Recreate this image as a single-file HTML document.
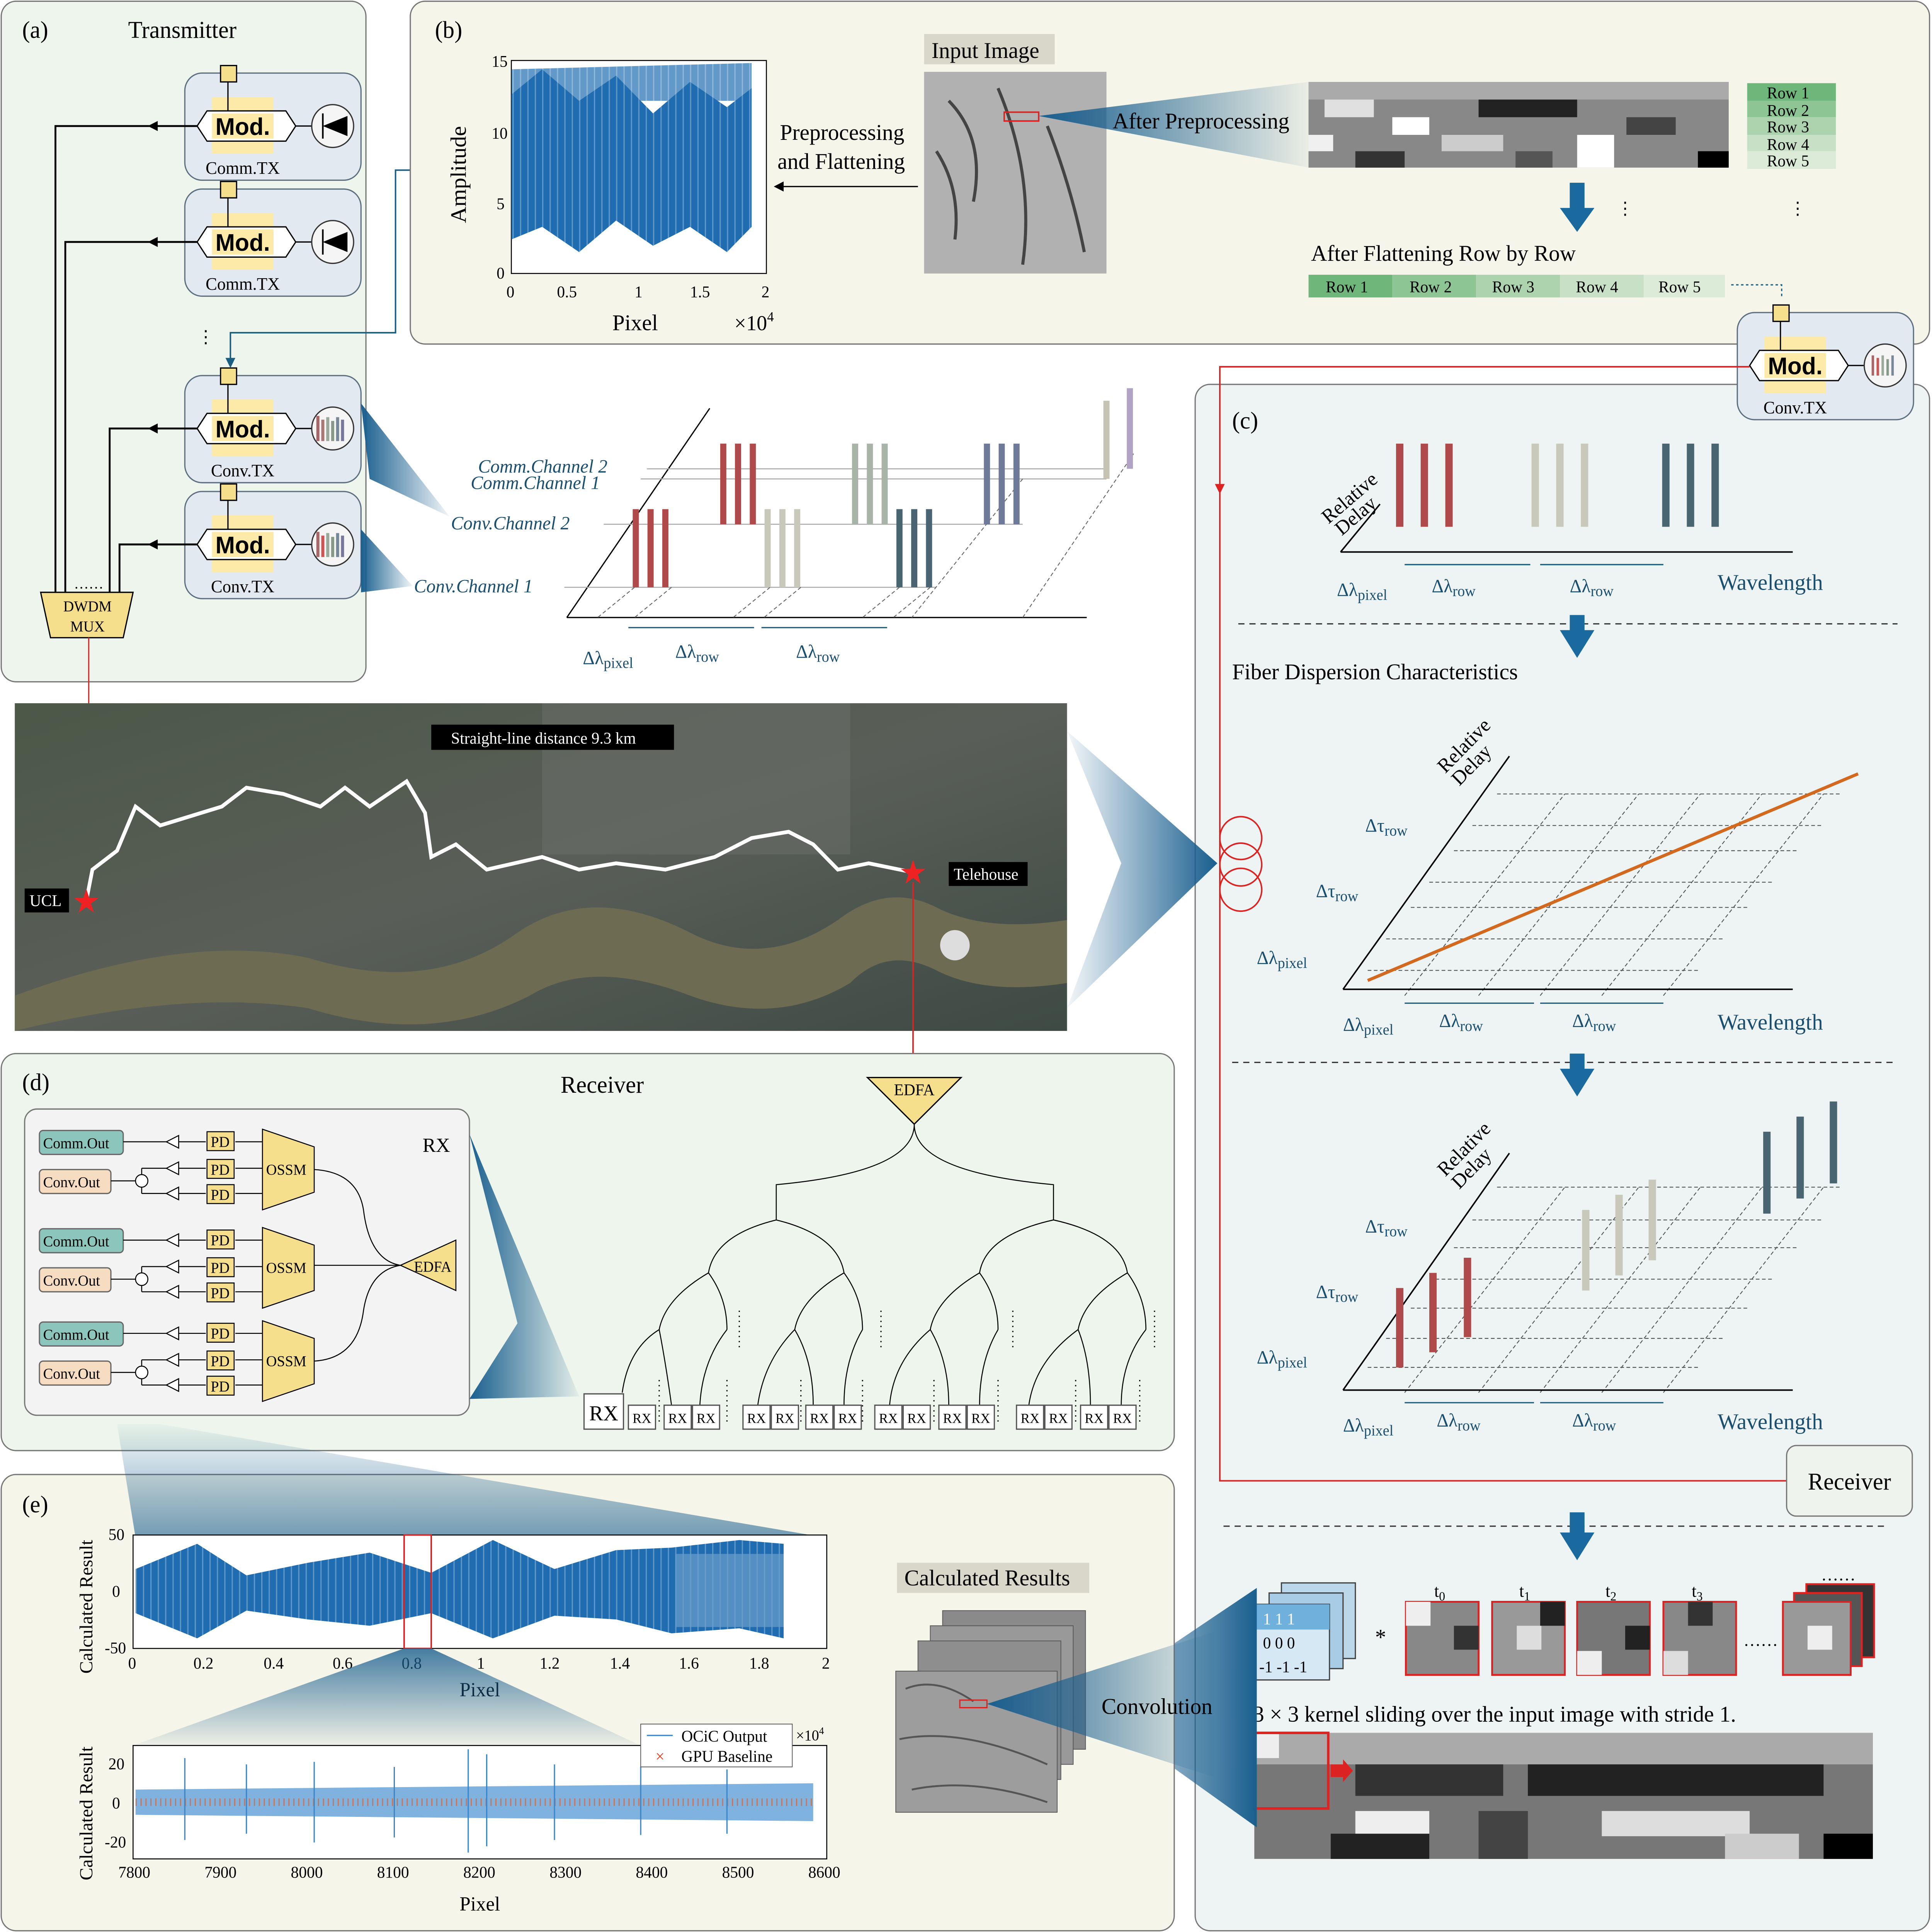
<!DOCTYPE html>
<html><head><meta charset="utf-8"><style>
html,body{margin:0;padding:0;background:#fff;width:100%;height:100%;overflow:hidden;}
svg{display:block;position:absolute;left:0;top:0;width:100vw;height:100vh;}
text{font-family:"Liberation Serif",serif;}
.s{font-family:"Liberation Sans",sans-serif;}
</style></head><body>
<svg xmlns="http://www.w3.org/2000/svg" viewBox="0 0 1568 1533" preserveAspectRatio="none">
<defs>
<linearGradient id="fanB" x1="0" y1="0" x2="1" y2="0"><stop offset="0" stop-color="#1a5f8f"/><stop offset="1" stop-color="#1a5f8f" stop-opacity="0.05"/></linearGradient>
<linearGradient id="fanR" x1="1" y1="0" x2="0" y2="0"><stop offset="0" stop-color="#1a5f8f"/><stop offset="1" stop-color="#1a5f8f" stop-opacity="0.05"/></linearGradient>
<linearGradient id="fanD" x1="0" y1="1" x2="0" y2="0"><stop offset="0" stop-color="#1a5f8f"/><stop offset="1" stop-color="#1a5f8f" stop-opacity="0.05"/></linearGradient>
<linearGradient id="fanU" x1="0" y1="0" x2="0" y2="1"><stop offset="0" stop-color="#1a5f8f"/><stop offset="1" stop-color="#1a5f8f" stop-opacity="0.05"/></linearGradient>
<linearGradient id="map" x1="0" y1="0" x2="1" y2="1"><stop offset="0" stop-color="#4c5848"/><stop offset="0.5" stop-color="#5a5e58"/><stop offset="1" stop-color="#3e4a44"/></linearGradient>
<pattern id="noise" width="6" height="10" patternUnits="userSpaceOnUse"><rect width="6" height="10" fill="#1f6db0"/><rect x="2" width="1" height="10" fill="#5f98c8"/></pattern>
<g id="mod">
<rect x="0" y="0" width="143" height="85" rx="14" fill="#e2e9f1" stroke="#5d6f80" stroke-width="1"/>
<rect x="22" y="19" width="50" height="45" fill="#fdeaa8"/>
<line x1="35" y1="6" x2="35" y2="30" stroke="#000"/>
<rect x="29" y="-6" width="13" height="13" fill="#f6df8c" stroke="#000"/>
<polygon points="10,42 18,30 82,30 90,42 82,54 18,54" fill="#fff" stroke="#000"/>
<rect x="22" y="32" width="50" height="20" fill="#fdeaa8"/>
<text x="47" y="49" text-anchor="middle" class="s" font-weight="bold" font-size="19">Mod.</text>
<line x1="90" y1="42" x2="103" y2="42" stroke="#000"/>
<circle cx="120" cy="42" r="17" fill="#f5f5f5" stroke="#333"/>
</g>
</defs>

<!-- Panel a -->
<rect x="1" y="1" width="296" height="540" rx="12" fill="#edf5ec" stroke="#777"/>
<text x="18" y="30" font-size="19">(a)</text>
<text x="104" y="30" font-size="19">Transmitter</text>
<use href="#mod" x="150" y="58"/><text x="197" y="138" font-size="14" text-anchor="middle">Comm.TX</text>
<use href="#mod" x="150" y="150"/><text x="197" y="230" font-size="14" text-anchor="middle">Comm.TX</text>
<use href="#mod" x="150" y="298"/><text x="197" y="378" font-size="14" text-anchor="middle">Conv.TX</text>
<use href="#mod" x="150" y="390"/><text x="197" y="470" font-size="14" text-anchor="middle">Conv.TX</text>
<g fill="#000"><polygon points="262,100 282,92 282,108"/><polygon points="262,192 282,184 282,200"/></g>
<g stroke="#000" stroke-width="1.3"><line x1="262" y1="90" x2="262" y2="110"/><line x1="262" y1="182" x2="262" y2="202"/></g>
<g stroke-width="2.5"><line x1="258" y1="330" x2="258" y2="350" stroke="#a66"/><line x1="262" y1="333" x2="262" y2="350" stroke="#a77"/><line x1="266" y1="331" x2="266" y2="350" stroke="#9a9"/><line x1="270" y1="334" x2="270" y2="350" stroke="#898"/><line x1="274" y1="331" x2="274" y2="350" stroke="#789"/><line x1="278" y1="333" x2="278" y2="350" stroke="#779"/>
<line x1="258" y1="422" x2="258" y2="442" stroke="#a66"/><line x1="262" y1="425" x2="262" y2="442" stroke="#c55"/><line x1="266" y1="423" x2="266" y2="442" stroke="#9a9"/><line x1="270" y1="426" x2="270" y2="442" stroke="#898"/><line x1="274" y1="423" x2="274" y2="442" stroke="#789"/><line x1="278" y1="425" x2="278" y2="442" stroke="#779"/></g>
<g fill="none" stroke="#000" stroke-width="1.5">
<polyline points="160,100 45,100 45,470"/><polyline points="160,192 53,192 53,470"/>
<polyline points="160,340 89,340 89,470"/><polyline points="160,432 97,432 97,470"/></g>
<g fill="#000"><polygon points="120,100 128,96 128,104"/><polygon points="120,192 128,188 128,196"/><polygon points="120,340 128,336 128,344"/><polygon points="120,432 128,428 128,436"/></g>
<text x="160" y="272" font-size="14">⋮</text>
<text x="60" y="467" font-size="12">……</text>
<polygon points="33,470 108,470 100,506 41,506" fill="#f6df8c" stroke="#000"/>
<text x="71" y="485" font-size="12" text-anchor="middle">DWDM</text><text x="71" y="501" font-size="12" text-anchor="middle">MUX</text>
<polyline points="333,135 321,135 321,264 187,264 187,290" fill="none" stroke="#1a5f80" stroke-width="1.2"/>
<polygon points="187,292 183,284 191,284" fill="#1a5f80"/>
<line x1="72" y1="506" x2="72" y2="715" stroke="#c33" stroke-width="1"/>

<polygon points="293,320 365,410 300,380" fill="url(#fanB)"/>
<polygon points="293,420 335,465 293,470" fill="url(#fanB)"/>

<!-- 3D channels diagram -->
<g stroke="#000" fill="none" stroke-width="1"><line x1="460" y1="490" x2="576" y2="324"/><line x1="460" y1="490" x2="882" y2="490"/></g>
<g stroke="#aaa" stroke-width="0.8"><line x1="525" y1="372" x2="898" y2="372"/><line x1="520" y1="380" x2="898" y2="380"/><line x1="490" y1="416" x2="830" y2="416"/><line x1="458" y1="466" x2="760" y2="466"/></g>
<g stroke="#666" stroke-width="0.7" stroke-dasharray="3,2">
<line x1="515" y1="466" x2="485" y2="490"/><line x1="545" y1="466" x2="515" y2="490"/><line x1="625" y1="466" x2="595" y2="490"/><line x1="650" y1="466" x2="620" y2="490"/><line x1="730" y1="466" x2="700" y2="490"/><line x1="755" y1="466" x2="725" y2="490"/><line x1="830" y1="380" x2="740" y2="490"/><line x1="920" y1="360" x2="830" y2="490"/></g>
<g stroke-width="5">
<line x1="516" y1="404" x2="516" y2="466" stroke="#b04a4a"/><line x1="528" y1="404" x2="528" y2="466" stroke="#b04a4a"/><line x1="540" y1="404" x2="540" y2="466" stroke="#b04a4a"/>
<line x1="587" y1="352" x2="587" y2="416" stroke="#b04a4a"/><line x1="599" y1="352" x2="599" y2="416" stroke="#b04a4a"/><line x1="611" y1="352" x2="611" y2="416" stroke="#b04a4a"/>
<line x1="623" y1="404" x2="623" y2="466" stroke="#c8c8bb"/><line x1="635" y1="404" x2="635" y2="466" stroke="#c8c8bb"/><line x1="647" y1="404" x2="647" y2="466" stroke="#c8c8bb"/>
<line x1="694" y1="352" x2="694" y2="416" stroke="#a9b4a8"/><line x1="706" y1="352" x2="706" y2="416" stroke="#a9b4a8"/><line x1="718" y1="352" x2="718" y2="416" stroke="#a9b4a8"/>
<line x1="730" y1="404" x2="730" y2="466" stroke="#4a6572"/><line x1="742" y1="404" x2="742" y2="466" stroke="#4a6572"/><line x1="754" y1="404" x2="754" y2="466" stroke="#4a6572"/>
<line x1="801" y1="352" x2="801" y2="416" stroke="#6d7a99"/><line x1="813" y1="352" x2="813" y2="416" stroke="#6d7a99"/><line x1="825" y1="352" x2="825" y2="416" stroke="#6d7a99"/>
<line x1="898" y1="318" x2="898" y2="380" stroke="#c6c3b5"/><line x1="917" y1="308" x2="917" y2="372" stroke="#b1a3c3"/></g>
<g fill="#1a4f70" font-style="italic" font-size="15"><text x="388" y="375">Comm.Channel 2</text><text x="382" y="388">Comm.Channel 1</text><text x="366" y="420">Conv.Channel 2</text><text x="336" y="470">Conv.Channel 1</text></g>
<g stroke="#1a5f80" stroke-width="1"><line x1="510" y1="498" x2="612" y2="498"/><line x1="618" y1="498" x2="720" y2="498"/></g>
<g fill="#1a4f70" font-size="15"><text x="473" y="527">Δλ<tspan font-size="12" dy="3">pixel</tspan></text><text x="548" y="522">Δλ<tspan font-size="12" dy="3">row</tspan></text><text x="646" y="522">Δλ<tspan font-size="12" dy="3">row</tspan></text></g>

<!-- Panel b -->
<rect x="333" y="1" width="1233" height="272" rx="12" fill="#f6f5e9" stroke="#777"/>
<text x="353" y="30" font-size="19">(b)</text>
<rect x="415" y="48" width="207" height="169" fill="#fff" stroke="#000" stroke-width="0.8"/>
<polygon points="415,75 440,55 470,80 500,60 530,90 560,65 590,85 610,70 610,180 590,200 560,180 530,195 500,175 470,200 440,180 415,190" fill="url(#noise)"/>
<polygon points="415,55 610,50 610,80 415,80" fill="url(#noise)" opacity="0.7"/>
<g font-size="13"><text x="399" y="53">15</text><text x="399" y="110">10</text><text x="403" y="166">5</text><text x="403" y="221">0</text>
<text x="411" y="236">0</text><text x="452" y="236">0.5</text><text x="515" y="236">1</text><text x="560" y="236">1.5</text><text x="618" y="236">2</text></g>
<text x="378" y="177" font-size="18" transform="rotate(-90 378 177)">Amplitude</text>
<text x="497" y="262" font-size="18">Pixel</text><text x="596" y="262" font-size="17">×10<tspan font-size="11" dy="-7">4</tspan></text>
<text x="633" y="111" font-size="18">Preprocessing</text><text x="631" y="134" font-size="18">and Flattening</text>
<line x1="745" y1="148" x2="635" y2="148" stroke="#000"/><polygon points="628,148 636,144 636,152" fill="#000"/>
<rect x="750" y="27" width="106" height="24" fill="#d9d6ca"/><text x="756" y="46" font-size="18">Input Image</text>
<rect x="750" y="57" width="148" height="160" fill="#9a9a9a"/>
<rect x="750" y="57" width="148" height="160" fill="#c8c8c8" opacity="0.5"/>
<path d="M770,80 Q800,110 790,160 M810,70 Q840,140 830,210 M850,100 Q870,150 880,200 M760,120 Q780,150 775,190" stroke="#444" stroke-width="2.5" fill="none"/>
<rect x="815" y="89" width="28" height="7" fill="none" stroke="#d22" stroke-width="1.2"/>
<polygon points="843,92 1062,65 1062,133" fill="url(#fanB)"/>
<text x="903" y="102" font-size="18">After Preprocessing</text>
<g>
<rect x="1062" y="65" width="341" height="68" fill="#888"/>
<rect x="1062" y="65" width="341" height="14" fill="#aaa"/>
<rect x="1075" y="79" width="40" height="14" fill="#e0e0e0"/><rect x="1130" y="93" width="30" height="14" fill="#fff"/><rect x="1200" y="79" width="80" height="14" fill="#222"/><rect x="1280" y="107" width="30" height="26" fill="#fff"/><rect x="1378" y="120" width="25" height="13" fill="#000"/><rect x="1100" y="120" width="40" height="13" fill="#333"/><rect x="1170" y="107" width="50" height="13" fill="#ccc"/><rect x="1320" y="93" width="40" height="14" fill="#444"/><rect x="1230" y="120" width="30" height="13" fill="#555"/><rect x="1062" y="107" width="20" height="13" fill="#f0f0f0"/>
</g>
<g font-size="13"><rect x="1418" y="66" width="72" height="14" fill="#6fb67a"/><rect x="1418" y="80" width="72" height="13" fill="#8ec595"/><rect x="1418" y="93" width="72" height="14" fill="#acd3ae"/><rect x="1418" y="107" width="72" height="13" fill="#c8e0c6"/><rect x="1418" y="120" width="72" height="14" fill="#dcebd8"/>
<text x="1434" y="78" font-family="Liberation Sans">Row 1</text><text x="1434" y="92" font-family="Liberation Sans">Row 2</text><text x="1434" y="105" font-family="Liberation Sans">Row 3</text><text x="1434" y="119" font-family="Liberation Sans">Row 4</text><text x="1434" y="132" font-family="Liberation Sans">Row 5</text></g>
<rect x="1274" y="145" width="12" height="22" fill="#1a6aa0"/><polygon points="1266,165 1294,165 1280,184" fill="#1a6aa0"/>
<text x="1312" y="170" font-size="14">⋮</text><text x="1452" y="170" font-size="14">⋮</text>
<text x="1064" y="207" font-size="18">After Flattening Row by Row</text>
<g font-size="13"><rect x="1062" y="218" width="68" height="18" fill="#6fb67a"/><rect x="1130" y="218" width="68" height="18" fill="#8ec595"/><rect x="1198" y="218" width="68" height="18" fill="#acd3ae"/><rect x="1266" y="218" width="68" height="18" fill="#c8e0c6"/><rect x="1334" y="218" width="66" height="18" fill="#dcebd8"/>
<text x="1076" y="232" font-family="Liberation Sans">Row 1</text><text x="1144" y="232" font-family="Liberation Sans">Row 2</text><text x="1211" y="232" font-family="Liberation Sans">Row 3</text><text x="1279" y="232" font-family="Liberation Sans">Row 4</text><text x="1346" y="232" font-family="Liberation Sans">Row 5</text></g>
<polyline points="1405,226 1446,226 1446,236" fill="none" stroke="#1a5f80" stroke-dasharray="2,2"/>

<!-- Panel c -->
<rect x="970" y="305" width="596" height="1227" rx="12" fill="#eef4f3" stroke="#777"/>
<use href="#mod" x="1410" y="248"/>
<g stroke-width="2"><line x1="1520" y1="282" x2="1520" y2="298" stroke="#a66"/><line x1="1524" y1="284" x2="1524" y2="298" stroke="#c55"/><line x1="1528" y1="282" x2="1528" y2="298" stroke="#9a9"/><line x1="1532" y1="285" x2="1532" y2="298" stroke="#898"/><line x1="1536" y1="282" x2="1536" y2="298" stroke="#789"/></g>
<text x="1457" y="328" font-size="14" text-anchor="middle">Conv.TX</text>
<polyline points="1420,291 990,291 990,1175 1450,1175" fill="none" stroke="#d22" stroke-width="1.2"/>
<polygon points="990,392 986,384 994,384" fill="#d22"/>
<rect x="1450" y="1147" width="102" height="56" rx="8" fill="#eef4ed" stroke="#777"/>
<text x="1501" y="1182" font-size="19" text-anchor="middle">Receiver</text>
<text x="1000" y="340" font-size="19">(c)</text>
<g stroke="#000" stroke-width="1.2" fill="none"><line x1="1088" y1="438" x2="1455" y2="438"/><line x1="1088" y1="438" x2="1120" y2="400"/></g>
<text x="1065" y="410" font-size="16" transform="rotate(-40 1080 395)">Relative</text><text x="1076" y="420" font-size="16" transform="rotate(-40 1090 405)">Delay</text>
<g stroke-width="6"><line x1="1136" y1="352" x2="1136" y2="418" stroke="#b04a4a"/><line x1="1156" y1="352" x2="1156" y2="418" stroke="#b04a4a"/><line x1="1176" y1="352" x2="1176" y2="418" stroke="#b04a4a"/><line x1="1246" y1="352" x2="1246" y2="418" stroke="#c8c8bb"/><line x1="1266" y1="352" x2="1266" y2="418" stroke="#c8c8bb"/><line x1="1286" y1="352" x2="1286" y2="418" stroke="#c8c8bb"/><line x1="1352" y1="352" x2="1352" y2="418" stroke="#4a6572"/><line x1="1372" y1="352" x2="1372" y2="418" stroke="#4a6572"/><line x1="1392" y1="352" x2="1392" y2="418" stroke="#4a6572"/></g>
<g stroke="#1a5f80"><line x1="1140" y1="448" x2="1242" y2="448"/><line x1="1250" y1="448" x2="1350" y2="448"/></g>
<g fill="#1a4f70" font-size="15"><text x="1085" y="473">Δλ<tspan font-size="12" dy="3">pixel</tspan></text><text x="1162" y="470">Δλ<tspan font-size="12" dy="3">row</tspan></text><text x="1274" y="470">Δλ<tspan font-size="12" dy="3">row</tspan></text></g>
<text x="1394" y="468" font-size="18" fill="#1a4f70">Wavelength</text>
<line x1="1005" y1="495" x2="1540" y2="495" stroke="#333" stroke-dasharray="5,4"/>
<rect x="1274" y="488" width="12" height="14" fill="#1a6aa0"/><polygon points="1266,500 1294,500 1280,522" fill="#1a6aa0"/>
<text x="1000" y="539" font-size="18">Fiber Dispersion Characteristics</text>
<g stroke="#555" stroke-width="0.7" stroke-dasharray="3,2" fill="none">
<line x1="1110" y1="770" x2="1380" y2="770"/><line x1="1125" y1="745" x2="1400" y2="745"/><line x1="1145" y1="720" x2="1420" y2="720"/><line x1="1160" y1="700" x2="1440" y2="700"/><line x1="1180" y1="675" x2="1460" y2="675"/><line x1="1195" y1="655" x2="1480" y2="655"/><line x1="1215" y1="630" x2="1495" y2="630"/>
<line x1="1140" y1="790" x2="1270" y2="630"/><line x1="1200" y1="790" x2="1330" y2="630"/><line x1="1250" y1="790" x2="1380" y2="630"/><line x1="1300" y1="790" x2="1430" y2="630"/><line x1="1350" y1="790" x2="1480" y2="630"/></g>
<g stroke="#000" stroke-width="1.2"><line x1="1090" y1="785" x2="1455" y2="785"/><line x1="1090" y1="785" x2="1225" y2="600"/></g>
<line x1="1110" y1="778" x2="1508" y2="614" stroke="#d2691e" stroke-width="2.5"/>
<text x="1165" y="605" font-size="16" transform="rotate(-45 1180 600)">Relative</text><text x="1176" y="616" font-size="16" transform="rotate(-45 1190 610)">Delay</text>
<g fill="#1a4f70" font-size="15"><text x="1108" y="660">Δτ<tspan font-size="12" dy="3">row</tspan></text><text x="1068" y="712">Δτ<tspan font-size="12" dy="3">row</tspan></text><text x="1020" y="765">Δλ<tspan font-size="12" dy="3">pixel</tspan></text><text x="1090" y="818">Δλ<tspan font-size="12" dy="3">pixel</tspan></text><text x="1168" y="815">Δλ<tspan font-size="12" dy="3">row</tspan></text><text x="1276" y="815">Δλ<tspan font-size="12" dy="3">row</tspan></text></g>
<text x="1394" y="817" font-size="18" fill="#1a4f70">Wavelength</text>
<g stroke="#1a5f80"><line x1="1140" y1="796" x2="1245" y2="796"/><line x1="1250" y1="796" x2="1350" y2="796"/></g>
<g fill="none" stroke="#d22" stroke-width="1.2"><circle cx="1007" cy="665" r="17"/><circle cx="1007" cy="686" r="17"/><circle cx="1007" cy="706" r="17"/></g>
<polygon points="866,580 988,685 866,800 910,685" fill="url(#fanR)"/>
<line x1="1000" y1="843" x2="1540" y2="843" stroke="#333" stroke-dasharray="5,4"/>
<rect x="1274" y="836" width="12" height="14" fill="#1a6aa0"/><polygon points="1266,848 1294,848 1280,870" fill="#1a6aa0"/>
<g stroke="#555" stroke-width="0.7" stroke-dasharray="3,2" fill="none">
<line x1="1110" y1="1085" x2="1380" y2="1085"/><line x1="1125" y1="1062" x2="1400" y2="1062"/><line x1="1145" y1="1038" x2="1420" y2="1038"/><line x1="1160" y1="1015" x2="1440" y2="1015"/><line x1="1180" y1="990" x2="1460" y2="990"/><line x1="1195" y1="968" x2="1480" y2="968"/><line x1="1215" y1="942" x2="1495" y2="942"/>
<line x1="1140" y1="1105" x2="1270" y2="942"/><line x1="1200" y1="1105" x2="1330" y2="942"/><line x1="1250" y1="1105" x2="1380" y2="942"/><line x1="1300" y1="1105" x2="1430" y2="942"/><line x1="1350" y1="1105" x2="1480" y2="942"/></g>
<g stroke="#000" stroke-width="1.2"><line x1="1090" y1="1103" x2="1455" y2="1103"/><line x1="1090" y1="1103" x2="1225" y2="915"/></g>
<g stroke-width="6"><line x1="1136" y1="1022" x2="1136" y2="1085" stroke="#b04a4a"/><line x1="1163" y1="1010" x2="1163" y2="1073" stroke="#b04a4a"/><line x1="1191" y1="998" x2="1191" y2="1061" stroke="#b04a4a"/><line x1="1287" y1="960" x2="1287" y2="1024" stroke="#c8c8bb"/><line x1="1314" y1="948" x2="1314" y2="1012" stroke="#c8c8bb"/><line x1="1341" y1="936" x2="1341" y2="1000" stroke="#c8c8bb"/><line x1="1434" y1="898" x2="1434" y2="963" stroke="#4a6572"/><line x1="1461" y1="886" x2="1461" y2="951" stroke="#4a6572"/><line x1="1488" y1="874" x2="1488" y2="939" stroke="#4a6572"/></g>
<text x="1165" y="925" font-size="16" transform="rotate(-45 1180 920)">Relative</text><text x="1176" y="936" font-size="16" transform="rotate(-45 1190 930)">Delay</text>
<g fill="#1a4f70" font-size="15"><text x="1108" y="978">Δτ<tspan font-size="12" dy="3">row</tspan></text><text x="1068" y="1030">Δτ<tspan font-size="12" dy="3">row</tspan></text><text x="1020" y="1082">Δλ<tspan font-size="12" dy="3">pixel</tspan></text><text x="1090" y="1136">Δλ<tspan font-size="12" dy="3">pixel</tspan></text><text x="1166" y="1132">Δλ<tspan font-size="12" dy="3">row</tspan></text><text x="1276" y="1132">Δλ<tspan font-size="12" dy="3">row</tspan></text></g>
<text x="1394" y="1134" font-size="18" fill="#1a4f70">Wavelength</text>
<g stroke="#1a5f80"><line x1="1140" y1="1113" x2="1245" y2="1113"/><line x1="1250" y1="1113" x2="1350" y2="1113"/></g>
<line x1="993" y1="1211" x2="1530" y2="1211" stroke="#333" stroke-dasharray="5,4"/>
<rect x="1274" y="1200" width="12" height="18" fill="#1a6aa0"/><polygon points="1266,1216 1294,1216 1280,1238" fill="#1a6aa0"/>
<g font-size="13">
<rect x="1040" y="1256" width="60" height="60" fill="#bcd7ea" stroke="#444"/><rect x="1030" y="1264" width="60" height="60" fill="#a9cce6" stroke="#444"/>
<rect x="1019" y="1273" width="60" height="60" fill="#d6e8f4" stroke="#444"/><rect x="1019" y="1273" width="60" height="20" fill="#6fb0dc"/>
<text x="1025" y="1289" fill="#fff">1  1  1</text><text x="1025" y="1308">0  0  0</text><text x="1022" y="1327">-1 -1 -1</text></g>
<text x="1116" y="1305" font-size="18">*</text>
<g stroke="#d22" stroke-width="1.5">
<rect x="1141" y="1271" width="59" height="58" fill="#888"/><rect x="1211" y="1271" width="59" height="58" fill="#999"/><rect x="1280" y="1271" width="59" height="58" fill="#777"/><rect x="1350" y="1271" width="59" height="58" fill="#888"/>
<rect x="1466" y="1257" width="55" height="58" fill="#333"/><rect x="1456" y="1264" width="55" height="58" fill="#555"/><rect x="1447" y="1271" width="55" height="58" fill="#999"/></g>
<g stroke="none"><rect x="1141" y="1271" width="20" height="19" fill="#eee"/><rect x="1180" y="1290" width="20" height="19" fill="#333"/><rect x="1231" y="1290" width="20" height="19" fill="#ddd"/><rect x="1250" y="1271" width="20" height="19" fill="#222"/><rect x="1280" y="1310" width="20" height="19" fill="#eee"/><rect x="1319" y="1290" width="20" height="19" fill="#222"/><rect x="1370" y="1271" width="20" height="19" fill="#333"/><rect x="1350" y="1310" width="20" height="19" fill="#ddd"/><rect x="1467" y="1290" width="20" height="19" fill="#eee"/></g>
<g font-size="14"><text x="1164" y="1267">t<tspan font-size="10" dy="3">0</tspan></text><text x="1233" y="1267">t<tspan font-size="10" dy="3">1</tspan></text><text x="1303" y="1267">t<tspan font-size="10" dy="3">2</tspan></text><text x="1373" y="1267">t<tspan font-size="10" dy="3">3</tspan></text><text x="1415" y="1306">……</text><text x="1478" y="1254">……</text></g>
<text x="1017" y="1366" font-size="18">3 × 3 kernel sliding over the input image with stride 1.</text>
<rect x="1018" y="1375" width="502" height="100" fill="#777"/>
<rect x="1018" y="1375" width="502" height="25" fill="#aaa"/><rect x="1100" y="1400" width="120" height="25" fill="#333"/><rect x="1240" y="1400" width="240" height="25" fill="#222"/><rect x="1100" y="1437" width="60" height="20" fill="#eee"/><rect x="1300" y="1437" width="120" height="20" fill="#ddd"/><rect x="1080" y="1455" width="80" height="20" fill="#222"/><rect x="1480" y="1455" width="40" height="20" fill="#000"/><rect x="1400" y="1455" width="60" height="20" fill="#ccc"/><rect x="1200" y="1437" width="40" height="38" fill="#444"/><rect x="1018" y="1375" width="20" height="20" fill="#eee"/>
<rect x="1018" y="1375" width="60" height="60" fill="none" stroke="#d22" stroke-width="2"/>
<polygon points="1080,1400 1090,1400 1090,1396 1098,1405 1090,1414 1090,1410 1080,1410" fill="#d22"/>
<polygon points="880,1352 1020,1260 1020,1450" fill="url(#fanR)"/>

<!-- Map -->
<rect x="12" y="558" width="854" height="260" fill="url(#map)"/>
<rect x="440" y="558" width="250" height="120" fill="#6c6f6c" opacity="0.5"/>
<path d="M12,790 Q150,740 250,760 Q350,790 420,740 Q480,700 560,740 Q620,770 680,730 Q720,700 760,720 Q800,740 866,730 L866,780 Q800,790 760,770 Q720,750 690,780 Q630,815 560,790 Q480,760 430,790 Q350,830 250,800 Q150,785 12,818 Z" fill="#6d6b52"/>
<circle cx="775" cy="750" r="12" fill="#ddd"/>
<polyline points="70,715 75,690 95,675 110,640 130,655 180,640 200,625 230,630 260,640 280,625 300,640 330,620 345,645 350,680 370,670 395,690 440,680 470,690 500,685 540,690 580,680 610,665 640,660 660,670 680,690 705,685 740,692" fill="none" stroke="#fff" stroke-width="3"/>
<rect x="350" y="575" width="197" height="20" fill="#000"/><text x="366" y="590" font-size="13" fill="#fff">Straight-line distance 9.3 km</text>
<rect x="20" y="705" width="36" height="19" fill="#000"/><text x="24" y="719" font-size="13" fill="#fff">UCL</text>
<rect x="770" y="684" width="64" height="19" fill="#000"/><text x="774" y="698" font-size="13" fill="#fff">Telehouse</text>
<text x="70" y="724" font-size="26" fill="#e22" text-anchor="middle">★</text><text x="741" y="701" font-size="26" fill="#e22" text-anchor="middle">★</text>
<line x1="741" y1="700" x2="741" y2="855" stroke="#d22" stroke-width="1.2"/>

<!-- Panel d -->
<rect x="1" y="836" width="952" height="315" rx="12" fill="#edf5ec" stroke="#777"/>
<text x="18" y="865" font-size="19">(d)</text><text x="455" y="867" font-size="19">Receiver</text>
<rect x="20" y="880" width="361" height="243" rx="10" fill="#f3f3f3" stroke="#777"/>
<text x="343" y="914" font-size="16">RX</text>
<polygon points="704,855 780,855 742,892" fill="#f6df8c" stroke="#000"/><text x="742" y="869" font-size="13" text-anchor="middle">EDFA</text>
<g fill="none" stroke="#000" stroke-width="0.8">
<path d="M742,892 Q742,930 630,940 Q630,960 630,968 M742,892 Q742,930 855,940 Q855,960 855,968"/>
<path d="M630,968 Q580,980 575,1010 M630,968 Q680,980 685,1010 M855,968 Q800,980 795,1010 M855,968 Q910,980 915,1010"/>
<path d="M575,1010 Q540,1030 535,1055 M575,1010 Q590,1030 590,1055 M685,1010 Q650,1030 645,1055 M685,1010 Q700,1030 700,1055 M795,1010 Q760,1030 755,1055 M795,1010 Q810,1030 810,1055 M915,1010 Q880,1030 875,1055 M915,1010 Q930,1030 930,1055"/>
<path d="M535,1055 Q510,1070 505,1105 M535,1055 Q540,1080 545,1115 M590,1055 Q570,1080 568,1115 M645,1055 Q620,1080 615,1115 M645,1055 Q660,1080 660,1115 M700,1055 Q685,1080 685,1115 M755,1055 Q725,1080 722,1115 M755,1055 Q770,1080 770,1115 M810,1055 Q795,1080 795,1115 M875,1055 Q840,1080 835,1115 M875,1055 Q885,1080 885,1115 M930,1055 Q910,1080 910,1115"/></g>
<g stroke="#000" stroke-dasharray="1,3"><line x1="600" y1="1040" x2="600" y2="1070"/><line x1="715" y1="1040" x2="715" y2="1070"/><line x1="822" y1="1040" x2="822" y2="1070"/><line x1="937" y1="1040" x2="937" y2="1070"/><line x1="535" y1="1095" x2="535" y2="1130"/><line x1="590" y1="1095" x2="590" y2="1130"/><line x1="650" y1="1095" x2="650" y2="1130"/><line x1="700" y1="1095" x2="700" y2="1130"/><line x1="758" y1="1095" x2="758" y2="1130"/><line x1="810" y1="1095" x2="810" y2="1130"/><line x1="873" y1="1095" x2="873" y2="1130"/><line x1="925" y1="1095" x2="925" y2="1130"/></g>
<rect x="474" y="1106" width="32" height="28" fill="#fff" stroke="#555"/><text x="490" y="1127" font-size="17" text-anchor="middle">RX</text>
<g fill="#fff" stroke="#555"><rect x="510" y="1115" width="22" height="19"/><rect x="539" y="1115" width="22" height="19"/><rect x="562" y="1115" width="22" height="19"/><rect x="603" y="1115" width="22" height="19"/><rect x="626" y="1115" width="22" height="19"/><rect x="654" y="1115" width="22" height="19"/><rect x="677" y="1115" width="22" height="19"/><rect x="710" y="1115" width="22" height="19"/><rect x="733" y="1115" width="22" height="19"/><rect x="762" y="1115" width="22" height="19"/><rect x="785" y="1115" width="22" height="19"/><rect x="825" y="1115" width="22" height="19"/><rect x="848" y="1115" width="22" height="19"/><rect x="877" y="1115" width="22" height="19"/><rect x="900" y="1115" width="22" height="19"/></g>
<g font-size="11" text-anchor="middle"><text x="521" y="1129">RX</text><text x="550" y="1129">RX</text><text x="573" y="1129">RX</text><text x="614" y="1129">RX</text><text x="637" y="1129">RX</text><text x="665" y="1129">RX</text><text x="688" y="1129">RX</text><text x="721" y="1129">RX</text><text x="744" y="1129">RX</text><text x="773" y="1129">RX</text><text x="796" y="1129">RX</text><text x="836" y="1129">RX</text><text x="859" y="1129">RX</text><text x="888" y="1129">RX</text><text x="911" y="1129">RX</text></g>
<polygon points="381,900 470,1108 381,1110 420,1050" fill="url(#fanB)"/>
<g id="rxg">
<rect x="32" y="897" width="68" height="19" rx="3" fill="#8cc5bc" stroke="#666"/><text x="35" y="911" font-size="12">Comm.Out</text>
<rect x="32" y="928" width="58" height="19" rx="3" fill="#f6dcc0" stroke="#666"/><text x="35" y="942" font-size="12">Conv.Out</text>
<g stroke="#000" stroke-width="0.8" fill="none"><line x1="100" y1="906" x2="167" y2="906"/><line x1="90" y1="937" x2="110" y2="937"/><polyline points="115,927 115,947"/><line x1="115" y1="927" x2="167" y2="927"/><line x1="115" y1="947" x2="167" y2="947"/><circle cx="115" cy="937" r="5" fill="#fff"/><line x1="191" y1="906" x2="213" y2="906"/><line x1="191" y1="927" x2="213" y2="927"/><line x1="191" y1="947" x2="213" y2="947"/></g>
<g fill="#fff" stroke="#000" stroke-width="0.8"><polygon points="135,906 145,901 145,911"/><polygon points="135,927 145,922 145,932"/><polygon points="135,947 145,942 145,952"/></g>
<g fill="#f6df8c" stroke="#000" stroke-width="0.8"><rect x="168" y="898" width="22" height="15"/><rect x="168" y="920" width="22" height="15"/><rect x="168" y="940" width="22" height="15"/></g>
<g font-size="12"><text x="171" y="910">PD</text><text x="171" y="932">PD</text><text x="171" y="952">PD</text></g>
<polygon points="213,896 255,910 255,946 213,960" fill="#f6df8c" stroke="#000" stroke-width="0.8"/><text x="216" y="932" font-size="12">OSSM</text>
</g>
<use href="#rxg" y="78"/><use href="#rxg" y="152"/>
<polygon points="325,1004 370,984 370,1024" fill="#f6df8c" stroke="#000" stroke-width="0.8"/><text x="336" y="1009" font-size="12">EDFA</text>
<g fill="none" stroke="#000" stroke-width="0.8"><path d="M255,928 Q290,930 295,960 Q300,1000 325,1004 M255,1004 L325,1004 M255,1080 Q290,1078 295,1040 Q300,1008 325,1004"/></g>

<!-- Panel e -->
<rect x="1" y="1170" width="952" height="362" rx="12" fill="#f6f5e9" stroke="#777"/>
<polygon points="95,1130 110,1220 670,1220 130,1130" fill="url(#fanD)" opacity="0.6"/>
<text x="18" y="1200" font-size="19">(e)</text>
<rect x="108" y="1218" width="563" height="90" fill="#fff" stroke="#000" stroke-width="0.8"/>
<polygon points="110,1245 160,1225 200,1250 250,1240 300,1232 350,1248 400,1222 450,1245 500,1230 545,1228 600,1222 636,1225 636,1300 600,1292 545,1296 500,1285 450,1282 400,1300 350,1280 300,1290 250,1285 200,1278 160,1300 110,1280" fill="url(#noise)"/>
<rect x="548" y="1233" width="88" height="58" fill="#6a9ecb" opacity="0.7"/>
<rect x="328" y="1218" width="22" height="90" fill="none" stroke="#d22" stroke-width="1.2"/>
<g font-size="13"><text x="88" y="1222">50</text><text x="91" y="1267">0</text><text x="85" y="1312">-50</text>
<text x="104" y="1324">0</text><text x="157" y="1324">0.2</text><text x="214" y="1324">0.4</text><text x="270" y="1324">0.6</text><text x="326" y="1324">0.8</text><text x="387" y="1324">1</text><text x="438" y="1324">1.2</text><text x="495" y="1324">1.4</text><text x="551" y="1324">1.6</text><text x="608" y="1324">1.8</text><text x="667" y="1324">2</text></g>
<text x="75" y="1328" font-size="15" transform="rotate(-90 75 1328)">Calculated Result</text>
<text x="373" y="1346" font-size="16">Pixel</text>
<polygon points="328,1308 350,1308 520,1385 108,1385" fill="url(#fanU)" opacity="0.8"/>
<rect x="108" y="1385" width="563" height="90" fill="#fff" stroke="#000" stroke-width="0.8"/>
<polygon points="110,1420 660,1415 660,1445 110,1440" fill="#7fb2de"/>
<line x1="110" y1="1430" x2="660" y2="1430" stroke="#e06030" stroke-width="6" stroke-dasharray="1,3" opacity="0.7"/>
<g stroke="#3a86c8" stroke-width="1"><line x1="150" y1="1395" x2="150" y2="1460"/><line x1="200" y1="1400" x2="200" y2="1455"/><line x1="255" y1="1398" x2="255" y2="1462"/><line x1="320" y1="1402" x2="320" y2="1458"/><line x1="380" y1="1388" x2="380" y2="1470"/><line x1="395" y1="1392" x2="395" y2="1465"/><line x1="450" y1="1400" x2="450" y2="1460"/><line x1="520" y1="1402" x2="520" y2="1456"/><line x1="590" y1="1404" x2="590" y2="1455"/></g>
<rect x="520" y="1368" width="123" height="34" fill="#fff" stroke="#555" stroke-width="0.6"/>
<line x1="525" y1="1377" x2="546" y2="1377" stroke="#3a86c8"/><text x="553" y="1382" font-size="13">OCiC Output</text>
<text x="532" y="1398" font-size="13" fill="#e04020">×</text><text x="553" y="1398" font-size="13">GPU Baseline</text>
<text x="646" y="1381" font-size="12">×10<tspan font-size="8" dy="-5">4</tspan></text>
<g font-size="13"><text x="88" y="1404">20</text><text x="91" y="1435">0</text><text x="85" y="1466">-20</text>
<text x="96" y="1490">7800</text><text x="166" y="1490">7900</text><text x="236" y="1490">8000</text><text x="306" y="1490">8100</text><text x="376" y="1490">8200</text><text x="446" y="1490">8300</text><text x="516" y="1490">8400</text><text x="586" y="1490">8500</text><text x="656" y="1490">8600</text></g>
<text x="75" y="1492" font-size="15" transform="rotate(-90 75 1492)">Calculated Result</text>
<text x="373" y="1516" font-size="16">Pixel</text>
<rect x="728" y="1240" width="156" height="24" fill="#d9d6ca"/><text x="734" y="1258" font-size="18">Calculated Results</text>
<g stroke="#555" stroke-width="0.6"><rect x="765" y="1278" width="116" height="110" fill="#8a8a8a"/><rect x="755" y="1290" width="116" height="110" fill="#999"/><rect x="745" y="1302" width="116" height="110" fill="#8e8e8e"/><rect x="727" y="1326" width="131" height="112" fill="#9d9d9d"/></g>
<path d="M735,1340 Q760,1330 790,1350 M730,1380 Q780,1370 850,1400 M740,1420 Q790,1410 850,1430" stroke="#555" fill="none" stroke-width="1.5"/>
<rect x="779" y="1349" width="22" height="6" fill="none" stroke="#d22"/>
<polygon points="801,1352 985,1295 985,1410" fill="url(#fanB)"/>
<text x="894" y="1360" font-size="18">Convolution</text>
</svg>
</body></html>
